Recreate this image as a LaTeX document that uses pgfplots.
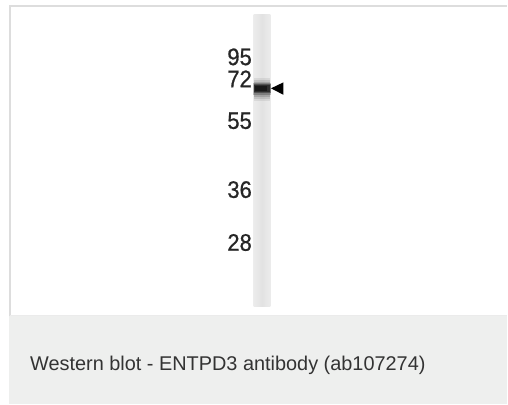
\documentclass[border=0pt]{standalone}
\usepackage{pgfplots}
\pgfplotsset{compat=1.18}
\usepackage{fontspec}
\setmainfont{Liberation Sans}
\newfontfamily\mwfont[FakeBold=0.8]{Liberation Sans}

\definecolor{frameline}{HTML}{DDDDDD}
\definecolor{capbox}{HTML}{EEEFEE}
\definecolor{lanegray}{HTML}{E2E2E2}
\definecolor{laneedge}{HTML}{ECECEC}
\definecolor{textgray}{HTML}{333333}

\newcommand{\mw}[1]{\scalebox{0.92}[1]{\mwfont\fontsize{24}{26}\selectfont #1}}

\begin{document}
\begin{tikzpicture}
\begin{axis}[
    width=508bp, height=405bp,
    scale only axis,
    xmin=0, xmax=508,
    ymin=0, ymax=405,
    y dir=reverse,
    hide axis,
    clip=false,
]
% page background
\addplot[draw=none, fill=white] coordinates {(0,0)(508,0)(508,405)(0,405)} --cycle;
% caption box
\addplot[draw=none, fill=capbox] coordinates {(9,317)(508,317)(508,405)(9,405)} --cycle;
% frame
\addplot[frameline, line width=2bp] coordinates {(10,317)(10,6)(508,6)};
\addplot[frameline!60, line width=1bp] coordinates {(10,316.5)(508,316.5)};

% lane
\addplot[draw=none, left color=laneedge, right color=laneedge, middle color=lanegray]
    coordinates {(254,15)(271,15)(271,307)(254,307)} --cycle;

% band at about 67 kDa, built up from soft layers
\addplot[draw=none, fill=black, fill opacity=0.07] coordinates {(254,78)(271,78)(271,101)(254,101)} --cycle;
\addplot[draw=none, fill=black, fill opacity=0.10] coordinates {(254,80)(271,80)(271,99)(254,99)} --cycle;
\addplot[draw=none, fill=black, fill opacity=0.14] coordinates {(254,82)(271,82)(271,97)(254,97)} --cycle;
\addplot[draw=none, fill=black, fill opacity=0.22] coordinates {(253.5,83.5)(272,83.5)(272,95)(253.5,95)} --cycle;
\addplot[draw=none, fill=black, fill opacity=0.35] coordinates {(254,84.5)(271.5,84.5)(271.5,93.5)(254,93.5)} --cycle;
\addplot[draw=none, fill=black, fill opacity=0.45] coordinates {(254.5,85.5)(270.5,85.5)(270.5,92.5)(254.5,92.5)} --cycle;
\addplot[draw=none, fill=black, fill opacity=0.45] coordinates {(255.5,86.5)(268,86.5)(268,91.5)(255.5,91.5)} --cycle;

% arrow
\addplot[draw=none, fill=black] coordinates {(271.5,88.5)(284,82.5)(284,95)} --cycle;

% marker labels
\node[anchor=east, inner sep=0pt, text=black!85] at (axis cs:252.5,57) {\mw{95}};
\node[anchor=east, inner sep=0pt, text=black!85] at (axis cs:252.5,79) {\mw{72}};
\node[anchor=east, inner sep=0pt, text=black!85] at (axis cs:252.5,121) {\mw{55}};
\node[anchor=east, inner sep=0pt, text=black!85] at (axis cs:252.5,190) {\mw{36}};
\node[anchor=east, inner sep=0pt, text=black!85] at (axis cs:252.5,243) {\mw{28}};

% caption
\node[anchor=base west, inner sep=0pt, text=textgray, font=\fontsize{20}{24}\selectfont]
    at (axis cs:30,371) {Western blot - ENTPD3 antibody (ab107274)};
\end{axis}
\end{tikzpicture}
\end{document}
